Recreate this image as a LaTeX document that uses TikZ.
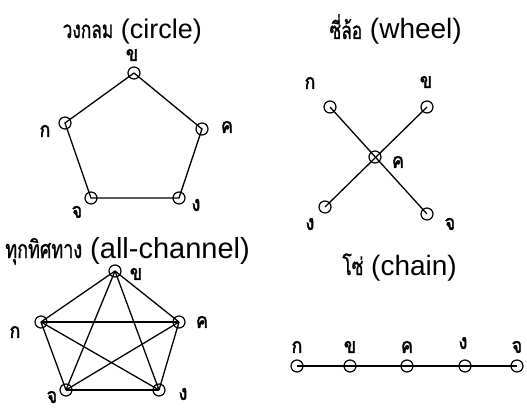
\documentclass[tikz,border=0pt]{standalone}
\usepackage{fontspec}
\setmainfont{Liberation Sans}
\newfontfamily\thaifont[Script=Thai, FakeStretch=0.72, FakeBold=1]{Loma}
\newfontfamily\thailbl[Script=Thai, FakeStretch=0.85, FakeBold=2]{Loma}
\usetikzlibrary{positioning}

\begin{document}
\begin{tikzpicture}[x=1pt, y=-1pt,
    pt/.style={circle, draw, line width=1.2pt, minimum size=12pt, inner sep=0pt},
    link/.style={line width=1.3pt},
    lbl/.style={font=\thailbl\fontsize{21}{21}\selectfont, inner sep=0pt},
    title/.style={font=\fontsize{27}{27}\selectfont, inner sep=0pt, anchor=base east}
  ]
  \useasboundingbox (0,0) rectangle (527,412);

  % --- CIRCLE ---
  \node[title] (c-title) at (202,38) {{\thaifont\fontsize{24}{24}\selectfont วงกลม} (circle)};
  \node[pt] (c-kh) at (134,73) {};
  \node[pt] (c-k) at (65,123) {};
  \node[pt] (c-kk) at (202,129) {};
  \node[pt] (c-ch) at (91,198) {};
  \node[pt] (c-ng) at (179,198) {};
  \draw[link] (c-kh.center) -- (c-kk.center) -- (c-ng.center) -- (c-ch.center) -- (c-k.center) -- (c-kh.center);
  \node[lbl] (c-kh-l) at (132,55) {ข};
  \node[lbl] (c-k-l) at (45,131) {ก};
  \node[lbl] (c-kk-l) at (227,127) {ค};
  \node[lbl] (c-ch-l) at (77,212) {จ};
  \node[lbl] (c-ng-l) at (196,205) {ง};

  % --- WHEEL ---
  \node[title, font=\fontsize{28}{28}\selectfont] (w-title) at (462,39) {{\thaifont\fontsize{24}{24}\selectfont ซี่ล้อ} (wheel)};
  \node[pt] (w-k) at (330,107) {};
  \node[pt] (w-kh) at (427,107) {};
  \node[pt] (w-kk) at (375,157) {};
  \node[pt] (w-ng) at (325,207) {};
  \node[pt] (w-ch) at (427,214) {};
  \draw[link] (w-k.center) -- (w-ch.center);
  \draw[link] (w-kh.center) -- (w-ng.center);
  \node[lbl] (w-k-l) at (310,83) {ก};
  \node[lbl] (w-kh-l) at (426,82) {ข};
  \node[lbl] (w-kk-l) at (398,162) {ค};
  \node[lbl] (w-ng-l) at (310,224) {ง};
  \node[lbl] (w-ch-l) at (450,224) {จ};

  % --- ALL-CHANNEL ---
  \node[title, font=\fontsize{29}{29}\selectfont] (a-title) at (250,258) {{\thaifont\fontsize{25}{25}\selectfont ทุกทิศทาง} (all-channel)};
  \node[pt] (a-kh) at (115,271) {};
  \node[pt] (a-k) at (41,322) {};
  \node[pt] (a-kk) at (179,322) {};
  \node[pt] (a-ch) at (66,390) {};
  \node[pt] (a-ng) at (159,390) {};
  \foreach \s/\t in {kh/k, kh/kk, kh/ch, kh/ng, k/kk, k/ch, k/ng, kk/ch, kk/ng, ch/ng}
    \draw[link] (a-\s.center) -- (a-\t.center);
  \node[lbl] (a-kh-l) at (136,274) {ข};
  \node[lbl] (a-k-l) at (15,332) {ก};
  \node[lbl] (a-kk-l) at (202,322) {ค};
  \node[lbl, text depth=0pt] (a-ch-l) at (52,397) {จ};
  \node[lbl] (a-ng-l) at (183,394) {ง};

  % --- CHAIN ---
  \node[title, font=\fontsize{28}{28}\selectfont] (n-title) at (457,275) {{\thaifont\fontsize{24}{24}\selectfont โซ่} (chain)};
  \node[pt] (n-k) at (297,366) {};
  \node[pt] (n-kh) at (350,366) {};
  \node[pt] (n-kk) at (407,366) {};
  \node[pt] (n-ng) at (465,366) {};
  \node[pt] (n-ch) at (517,366) {};
  \draw[link] (n-k.center) -- (n-kh.center) -- (n-kk.center) -- (n-ng.center) -- (n-ch.center);
  \node[lbl] (n-k-l) at (297,347) {ก};
  \node[lbl] (n-kh-l) at (350,347) {ข};
  \node[lbl] (n-kk-l) at (407,347) {ค};
  \node[lbl] (n-ng-l) at (463,343) {ง};
  \node[lbl] (n-ch-l) at (517,347) {จ};
\end{tikzpicture}
\end{document}
